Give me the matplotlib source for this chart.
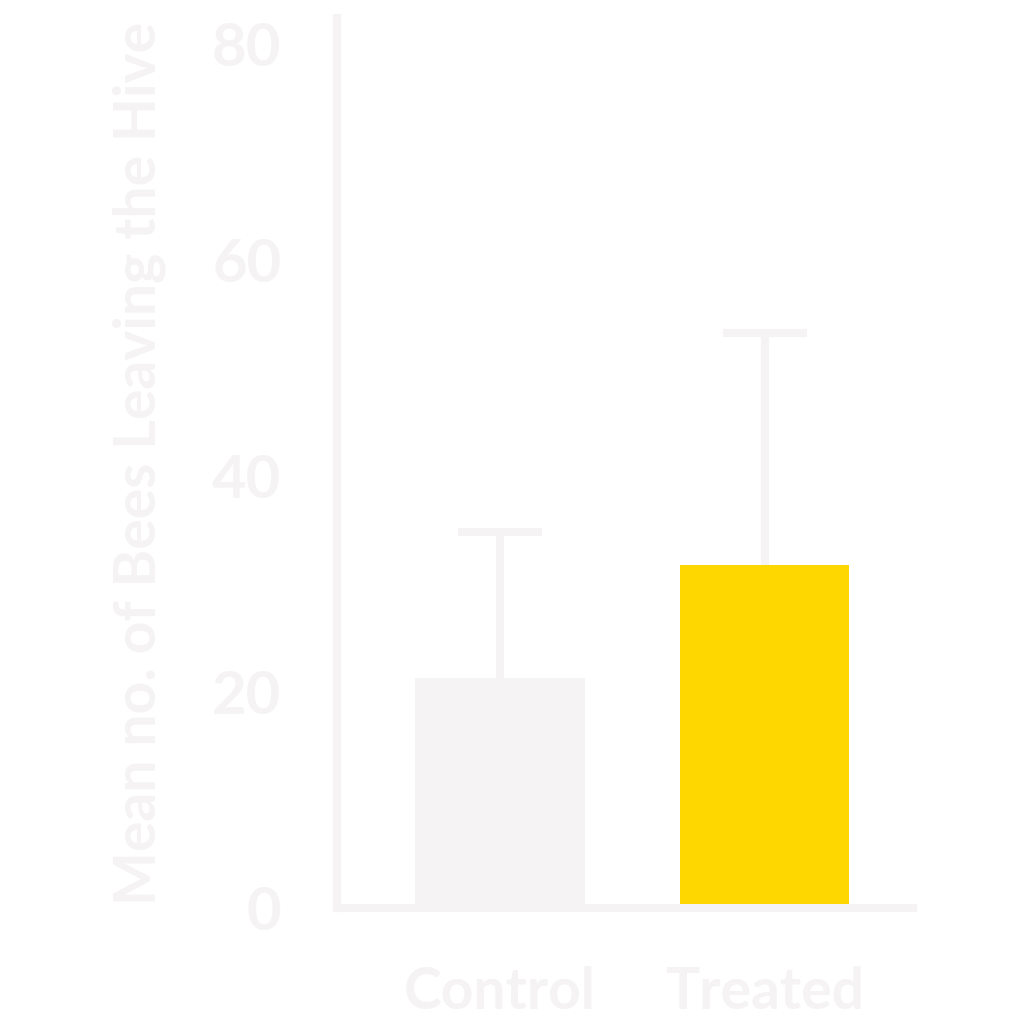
import matplotlib
matplotlib.use("Agg")
import matplotlib.pyplot as plt

categories = ["Control", "Treated"]
means = [21.3, 31.8]
upper = [34.8, 53.2]
bar_colors = ["#f5f3f3", "#ffd700"]
yticks = [0, 20, 40, 60, 80]

TXT = "#f5f3f3"
plt.rcParams['font.family'] = ['Lato', 'DejaVu Sans']

fig = plt.figure(figsize=(10.24, 10.24), dpi=100, facecolor="white")
ax = fig.add_axes([337/1024, 1-908/1024, (913-337)/1024, (908-18)/1024])
ax.set_facecolor("white")

x = list(range(len(categories)))
errs = [[0]*len(means), [u - m for u, m in zip(upper, means)]]
ax.bar(x, means, width=0.64, color=bar_colors, zorder=2)
eb = ax.errorbar(x, means, yerr=errs, fmt="none", ecolor=TXT, elinewidth=5.8,
                 capsize=30, capthick=5.8, zorder=1)
caps = eb[1]
if len(caps) == 2:
    caps[0].set_visible(False)

ax.set_xlim(-0.615, 1.56)
ax.set_ylim(0, 82.4)
ax.set_xticks(x)
ax.set_xticklabels(categories)
ax.set_yticks(yticks)
for s in ["top", "right"]:
    ax.spines[s].set_visible(False)
for s in ["left", "bottom"]:
    ax.spines[s].set_linewidth(5.8)
    ax.spines[s].set_color(TXT)
ax.tick_params(axis="both", length=0, labelcolor=TXT)
ax.tick_params(axis="y", pad=40, labelsize=43)
ax.tick_params(axis="x", pad=42, labelsize=41)
for lab in ax.get_xticklabels() + ax.get_yticklabels():
    lab.set_fontweight("bold")
ax.set_ylabel("Mean no. of Bees Leaving the Hive", fontsize=41, fontweight="bold",
              color=TXT, labelpad=33)

fig.savefig("out.png", dpi=100, facecolor="white")
